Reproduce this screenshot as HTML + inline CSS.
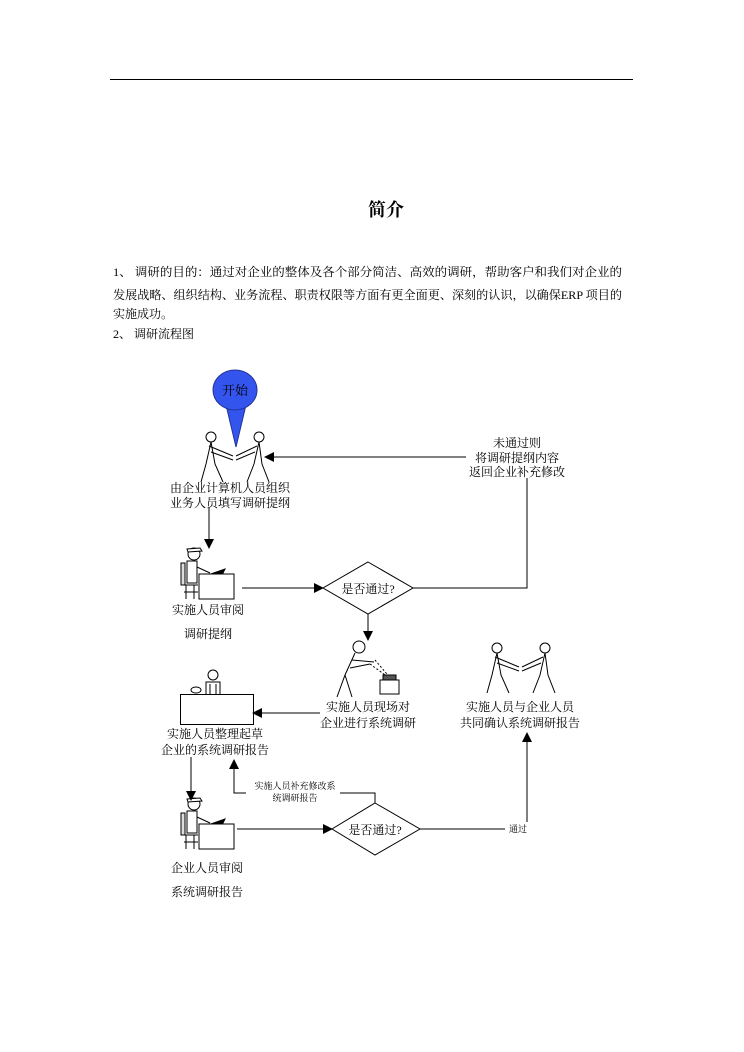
<!DOCTYPE html>
<html><head><meta charset="utf-8"><style>
html,body{margin:0;padding:0;background:#fff;}
svg{display:block;}
text{font-family:"Liberation Serif","Noto Serif CJK SC","Noto Sans CJK SC",serif;fill:#000;}
</style></head><body>
<svg width="744" height="1052" viewBox="0 0 744 1052" xmlns="http://www.w3.org/2000/svg">
<defs>
<marker id="ar" markerWidth="10" markerHeight="10" refX="9" refY="5" orient="auto" markerUnits="userSpaceOnUse">
<path d="M0,0 L10,5 L0,10 z" fill="#000"/></marker>
<g id="hs" fill="none" stroke="#000" stroke-width="1">
<circle cx="8" cy="5" r="5" fill="#fff"/><circle cx="56" cy="5" r="5" fill="#fff"/>
<path d="M8,10 L3,32 L-2,50 M8,10 L12,32 L20,50 M6,14 L30,24 M8,20 L30,28"/>
<path d="M56,10 L51,32 L44,50 M56,10 L59,32 L66,50 M54,14 L33,24 M52,20 L33,28"/>
</g>
<g id="desk" fill="none" stroke="#000" stroke-width="1">
<circle cx="14" cy="9" r="6" fill="#fff"/>
<path d="M7,4 L20,3 L22,6 L8,7 z" fill="#fff"/>
<rect x="1" y="18" width="4" height="22" fill="#ddd"/>
<rect x="7" y="16" width="10" height="22" fill="#fff"/>
<path d="M17,22 L30,28"/>
<path d="M28,30 L45,24 L42,30 z" fill="#000"/>
<rect x="19" y="29" width="35" height="25" fill="#fff"/>
<path d="M2,40 L18,40 M6,40 L6,54 M14,40 L14,54 M4,47 L18,47"/>
</g>
</defs>
<line x1="110" y1="79.5" x2="633" y2="79.5" stroke="#000" stroke-width="1"/>
<text x="386" y="216" font-size="18" font-weight="bold" text-anchor="middle" font-family="'Noto Sans CJK SC',sans-serif">简介</text>
<g font-size="12">
<text x="113" y="276" textLength="509" lengthAdjust="spacingAndGlyphs">1、 调研的目的：通过对企业的整体及各个部分简洁、高效的调研，帮助客户和我们对企业的</text>
<text x="113" y="299" textLength="509" lengthAdjust="spacingAndGlyphs">发展战略、组织结构、业务流程、职责权限等方面有更全面更、深刻的认识，以确保ERP 项目的</text>
<text x="113" y="318">实施成功。</text>
<text x="113" y="338">2、 调研流程图</text>
</g>
<path d="M226,405 L236,447 L246,405 z" fill="#3355ee" stroke="#223399"/>
<ellipse cx="235" cy="390" rx="22" ry="20" fill="#3355ee" stroke="#223399"/>
<text x="235" y="395" font-size="13" text-anchor="middle">开始</text>
<use href="#hs" x="203" y="432"/>
<use href="#hs" x="489" y="643"/>
<use href="#desk" x="180" y="545"/>
<use href="#desk" x="180" y="795"/>
<g fill="none" stroke="#000">
<circle cx="359" cy="647" r="6" fill="#fff"/>
<path d="M355,653 L345,675 L337,697 M345,675 L352,697 M352,660 L374,662 M350,668 L370,664"/>
<path d="M375,660 L392,680 M370,664 L392,680" stroke-dasharray="2,2"/>
<rect x="380" y="680" width="19" height="14" fill="#fff"/>
<rect x="383" y="675" width="13" height="5" fill="#555"/>
</g>
<g fill="none" stroke="#000">
<circle cx="213" cy="675" r="5" fill="#fff"/>
<path d="M206,694 L206,682 L220,682 L220,694 M210,684 L210,694 M216,684 L216,694"/>
<ellipse cx="196" cy="690" rx="5" ry="3"/>
<rect x="180.5" y="694.5" width="73" height="30" fill="#fff"/>
</g>
<g fill="none" stroke="#000" stroke-width="1">
<path d="M466,457 L265,457" marker-end="url(#ar)"/>
<path d="M413,588 L527,588 L527,478"/>
<path d="M209,507 L209,548" marker-end="url(#ar)"/>
<path d="M242,588 L323,588" marker-end="url(#ar)"/>
<polygon points="368,562 413,588 368,614 323,588"/>
<path d="M368,614 L368,640" marker-end="url(#ar)"/>
<path d="M320,713 L253,713" marker-end="url(#ar)"/>
<path d="M191,757 L191,800" marker-end="url(#ar)"/>
<path d="M237,829 L332,829" marker-end="url(#ar)"/>
<polygon points="375,803 420,829 375,855 332,829"/>
<path d="M375,803 L375,793 L340,793"/>
<path d="M246,793 L234,793 L234,760" marker-end="url(#ar)"/>
<path d="M420,829 L505,829"/>
<path d="M527,822 L527,733" marker-end="url(#ar)"/>
</g>
<g font-size="12" text-anchor="middle">
<text x="517" y="447">未通过则</text>
<text x="517" y="462">将调研提纲内容</text>
<text x="517" y="476">返回企业补充修改</text>
<text x="230" y="492">由企业计算机人员组织</text>
<text x="230" y="507">业务人员填写调研提纲</text>
<text x="368" y="593">是否通过?</text>
<text x="208" y="614">实施人员审阅</text>
<text x="208" y="638">调研提纲</text>
<text x="368" y="711">实施人员现场对</text>
<text x="368" y="727">企业进行系统调研</text>
<text x="520" y="711">实施人员与企业人员</text>
<text x="520" y="727">共同确认系统调研报告</text>
<text x="215" y="738">实施人员整理起草</text>
<text x="215" y="754">企业的系统调研报告</text>
<text x="375" y="834">是否通过?</text>
<text x="207" y="872">企业人员审阅</text>
<text x="207" y="896">系统调研报告</text>
</g>
<g font-size="9" text-anchor="middle">
<text x="295" y="789">实施人员补充修改系</text>
<text x="295" y="801">统调研报告</text>
<text x="518" y="832">通过</text>
</g>
</svg>
</body></html>
